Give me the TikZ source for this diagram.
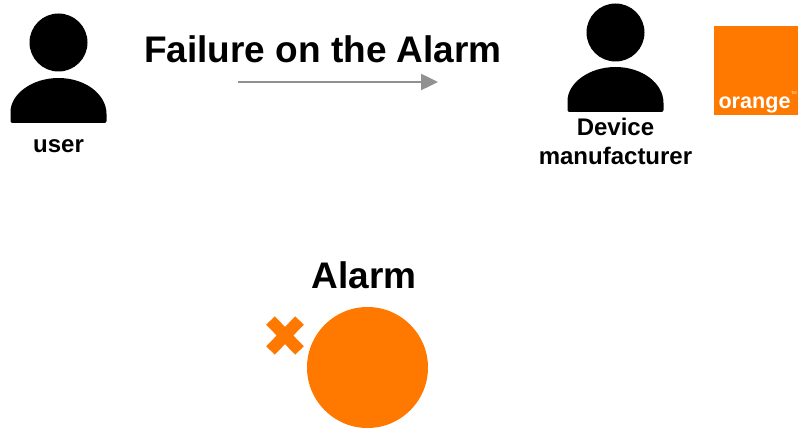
\documentclass[tikz,border=0pt]{standalone}
\usepackage{fontspec}
\setmainfont{Liberation Sans}
\usetikzlibrary{arrows.meta, positioning}
\definecolor{orangebrand}{HTML}{FF7900}

\begin{document}
\begin{tikzpicture}[
        x=1pt, y=-1pt,
        every node/.style={inner sep=0pt, outer sep=0pt, font=\bfseries},
        head/.style={circle, fill=black, minimum size=58pt},
        actorname/.style={font=\bfseries\fontsize{24}{29}\selectfont, align=center},
        heading/.style={font=\bfseries\fontsize{37}{40}\selectfont},
        pics/body/.style={code={
            \fill[rounded corners=2pt] (-48,45) -- (-48,36) [sharp corners] arc[start angle=180, end angle=0, x radius=48, y radius=-36] [rounded corners=2pt] -- (48,45) -- cycle;
        }},
    ]
        \useasboundingbox (0,0) rectangle (798,433);

        \node[head] at (58.5,42.5) (userhead) {};
        \pic at (58.5,78) {body};
        \node[actorname] at (58.5,146) (user) {user};

        \node[head] at (615.5,32.5) (makerhead) {};
        \pic at (615.5,67) {body};
        \node[actorname] at (615.5,141) (maker) {Device\\manufacturer};

        \node[fill=orangebrand, minimum width=84pt, minimum height=89pt] at (756,70.5) (logo) {};
        \node[text=white, font=\bfseries\fontsize{21.6}{24}\selectfont, anchor=base west] at (718.5,108.5) (logotext) {orange};
        \node[text=white, font=\fontsize{4}{5}\selectfont, anchor=base west] at (791,95) (logotm) {TM};

        \node[heading] at (323,49.5) (failure) {Failure on the Alarm};
        \coordinate (from) at (238,82);
        \coordinate (to) at (438,82);
        \draw[-{Triangle[length=17pt, width=16pt]}, line width=2.5pt, color=black!43] (from) -- (to);

        \node[heading] at (364,275) (alarmname) {Alarm};
        \node[circle, fill=orangebrand, minimum size=121pt] at (367.5,367.5) (alarm) {};
        \coordinate (xa) at (270.5,320.5);
        \coordinate (xb) at (299.5,350.5);
        \coordinate (xc) at (299.5,320.5);
        \coordinate (xd) at (270.5,350.5);
        \draw[orangebrand, line width=12pt] (xa) -- (xb) (xc) -- (xd);
    \end{tikzpicture}
\end{document}
